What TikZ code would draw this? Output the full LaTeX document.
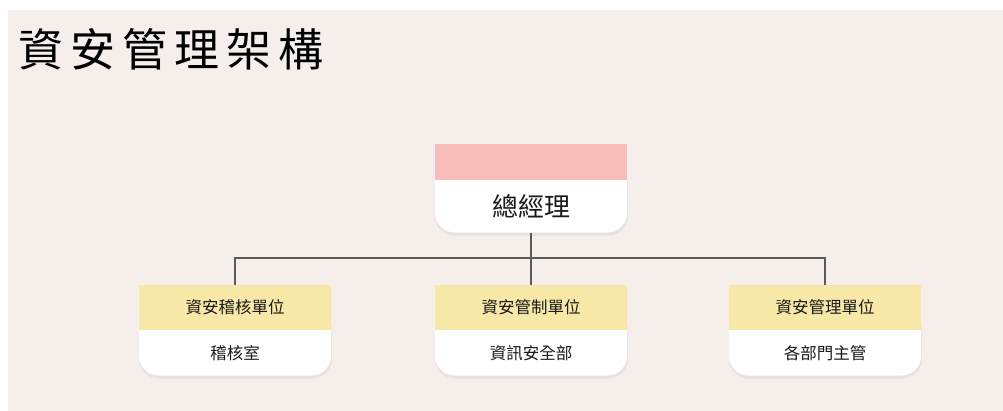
\documentclass[tikz,border=0pt]{standalone}
\usepackage{fontspec}
\usepackage{tikz}
\usetikzlibrary{positioning}
\setmainfont{Noto Sans CJK TC}
\definecolor{pagebg}{HTML}{F6EEEB}
\definecolor{bandpink}{HTML}{F9BEB9}
\definecolor{bandyellow}{HTML}{F8E8A8}
\definecolor{linkgray}{HTML}{5A5A5A}
\definecolor{txt}{HTML}{1A1A1A}
\pgfdeclarelayer{back}
\pgfdeclarelayer{bg}
\pgfsetlayers{back,bg,main}
\tikzset{
  band/.style={fill=#1, minimum width=192pt, inner sep=0pt, text=txt},
  cell/.style={minimum width=192pt, inner sep=0pt, text=txt},
  link/.style={draw=linkgray, line width=1.1pt},
}

\begin{document}
\begin{tikzpicture}[x=1pt,y=-1pt]
\useasboundingbox (0,0) rectangle (1003,411);
\begin{pgfonlayer}{back}
\fill[pagebg] (8,10) rectangle (1003,411);
\end{pgfonlayer}
% title
\node[anchor=west, inner sep=0pt, text=black] (title) at (18,49)
  {\fontsize{45}{45}\selectfont 資\hspace{7pt}安\hspace{7pt}管\hspace{7pt}理\hspace{7pt}架\hspace{7pt}構};
% top box
\node[band=bandpink, minimum height=36pt] (gmtop) at (531,162) {};
\node[cell, minimum height=52pt, below=0pt of gmtop, font=\fontsize{26}{26}\selectfont] (gm) {總經理};
% lower boxes
\node[band=bandyellow, minimum height=45pt, font=\fontsize{16.5}{16.5}\selectfont] (audtop) at (235,307.5) {資安稽核單位};
\node[cell, minimum height=45pt, below=0pt of audtop, font=\fontsize{16.5}{16.5}\selectfont] (aud) {稽核室};
\node[band=bandyellow, minimum height=45pt, font=\fontsize{16.5}{16.5}\selectfont] (ctltop) at (531,307.5) {資安管制單位};
\node[cell, minimum height=45pt, below=0pt of ctltop, font=\fontsize{16.5}{16.5}\selectfont] (ctl) {資訊安全部};
\node[band=bandyellow, minimum height=45pt, font=\fontsize{16.5}{16.5}\selectfont] (mgrtop) at (825,307.5) {資安管理單位};
\node[cell, minimum height=45pt, below=0pt of mgrtop, font=\fontsize{16.5}{16.5}\selectfont] (mgr) {各部門主管};
% white rounded bodies behind the bands
\begin{pgfonlayer}{bg}
\foreach \t/\b in {gmtop/gm,audtop/aud,ctltop/ctl,mgrtop/mgr}{
  \fill[black, opacity=0.05, rounded corners=20pt] ([yshift=-3pt]\t.west) rectangle ([yshift=-3pt,xshift=1pt]\b.south east);
  \fill[white, rounded corners=20pt] (\t.west) rectangle (\b.south east);
}
\end{pgfonlayer}
% connectors
\coordinate (split) at (531,258);
\draw[link] (gm.south) -- (split);
\draw[link] (audtop.north) |- (split) -| (mgrtop.north);
\draw[link] (split) -- (ctltop.north);
\end{tikzpicture}
\end{document}
